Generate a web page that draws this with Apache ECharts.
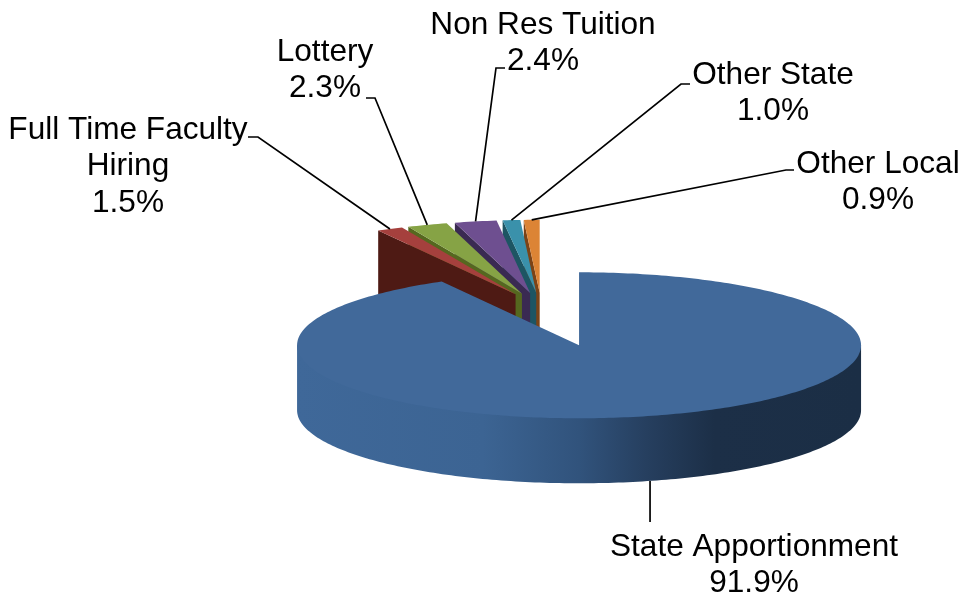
<!DOCTYPE html>
<html>
<head>
<meta charset="utf-8">
<style>html,body{margin:0;padding:0;background:#fff}#c{width:966px;height:599px}</style>
<script src="https://cdn.jsdelivr.net/npm/echarts@6/dist/echarts.min.js"></script>
</head>
<body>
<div id="c"></div>
<script>
// ---- data ----
var categories = ['State Apportionment', 'Full Time Faculty Hiring', 'Lottery', 'Non Res Tuition', 'Other State', 'Other Local'];
var labelNames = ['State Apportionment', 'Full Time Faculty\nHiring', 'Lottery', 'Non Res Tuition', 'Other State', 'Other Local'];
var values = [91.9, 1.5, 2.3, 2.4, 1.0, 0.9];

// ---- styles ----
var topColors  = ['#41699a', '#a5403d', '#86a345', '#6e4f90', '#3a91ab', '#dc8435'];
var sideColors = ['#1b2e45', '#4e1a14', '#55681f', '#3a2a52', '#1d5563', '#7c4316'];
var wallStops  = [[0, '#3f6899'], [0.33, '#3c6493'], [0.5, '#31537c'], [0.62, '#263f5f'], [0.74, '#1c2f47'], [1, '#1b2e45']];

// ---- layout ----
var cx = 541.3, cy = 307.7, rx = 282, ry = 73, depth = 65;
var explode = [150, 57.7, 57.7, 57.7, 57.7, 57.7];
var drawRank = [6, 5, 4, 3, 2, 1];
var labelCenter = [[754, 547], [128, 130], [325, 52], [543, 25], [773, 75], [878, 164]];
var leaderKnee = [null, [[248, 137], [258, 137]], [[366, 98], [375, 98]], [[505, 68], [496, 68]], [[690, 84], [681, 84]], [[794, 170], [786, 170]]];
var lineGap = 36.5, fontPx = 31.6;

var FONT = '"Liberation Sans", Arial, sans-serif';
var total = values.reduce(function (a, b) { return a + b; }, 0);
var D2R = Math.PI / 180;

function sliceGeometry(i) {
  var before = 0;
  for (var k = 0; k < i; k++) before += values[k];
  var a0 = before / total * 360, a1 = (before + values[i]) / total * 360, mid = (a0 + a1) / 2;
  return {
    a0: a0, a1: a1, mid: mid,
    x: cx + explode[i] * Math.sin(mid * D2R),
    y: cy - explode[i] * (ry / rx) * Math.cos(mid * D2R)
  };
}
function rim(g, a, dy, scale) {
  var s = scale || 1;
  return [g.x + s * rx * Math.sin(a * D2R), g.y - s * ry * Math.cos(a * D2R) + (dy || 0)];
}
function arcPts(g, from, to, dy, scale) {
  var n = Math.max(2, Math.ceil(Math.abs(to - from) / 1)), out = [];
  for (var j = 0; j <= n; j++) out.push(rim(g, from + (to - from) * j / n, dy, scale));
  return out;
}

function renderSlice(params, api) {
  var i = params.dataIndex, g = sliceGeometry(i), z = drawRank[i] * 10, kids = [];
  var apex = [g.x, g.y], apexLow = [g.x, g.y + depth];

  // cut face on the counter-clockwise edge of the slice
  if (i > 0) {
    var outer = rim(g, g.a0);
    kids.push({ type: 'polygon', z2: z, shape: { points: [apex, outer, [outer[0], outer[1] + depth], apexLow] },
      style: { fill: sideColors[i] } });
  } else {
    // visible outer wall of the big slice; its upper edge tucks under the top face
    var under = arcPts(g, 90, 270, 0, 0.98), low = arcPts(g, 270, 90, depth);
    kids.push({ type: 'polygon', z2: z, shape: { points: [rim(g, 90)].concat(under, [rim(g, 270)], low) },
      style: { fill: new echarts.graphic.LinearGradient(g.x - rx, 0, g.x + rx, 0,
        wallStops.map(function (s) { return { offset: s[0], color: s[1] }; }), true) } });
  }
  // top face
  kids.push({ type: 'polygon', z2: z + 1, shape: { points: [apex].concat(arcPts(g, g.a0, g.a1)) },
    style: { fill: topColors[i] } });

  // leader line, from the middle of the slice's rim
  var pts;
  if (i === 0) {
    var foot = rim(g, g.mid, depth);
    pts = [foot, [foot[0], foot[1] + 41]];
  } else {
    pts = leaderKnee[i].concat([rim(g, g.mid)]);
  }
  kids.push({ type: 'polyline', z2: 100, shape: { points: pts },
    style: { stroke: '#000', lineWidth: 1.7, fill: null } });

  // label
  var lines = (labelNames[i] + '\n' + values[i].toFixed(1) + '%').split('\n');
  lines.forEach(function (t, n) {
    kids.push({ type: 'text', z2: 101, style: {
      text: t, x: labelCenter[i][0], y: labelCenter[i][1] + n * lineGap,
      align: 'center', verticalAlign: 'middle', fill: '#000', font: fontPx + 'px ' + FONT } });
  });
  return { type: 'group', children: kids };
}

var chart = echarts.init(document.getElementById('c'), null, { renderer: 'canvas' });
chart.setOption({
  animation: false,
  backgroundColor: '#fff',
  series: [{
    type: 'custom',
    coordinateSystem: 'none',
    renderItem: renderSlice,
    data: values.map(function (v, i) { return { name: categories[i], value: v }; })
  }]
});
</script>
</body>
</html>
